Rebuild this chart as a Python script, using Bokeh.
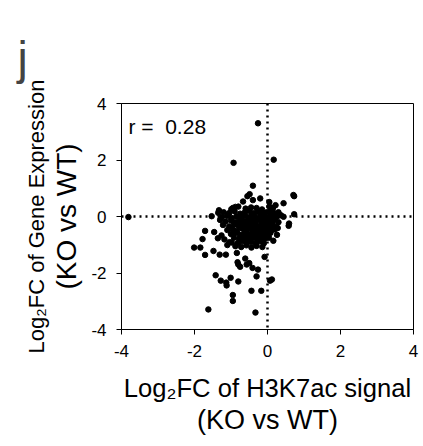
from bokeh.plotting import figure
from bokeh.models import Span, Label, FixedTicker, Range1d, ColumnDataSource, LinearAxis
from bokeh.embed import file_html
from bokeh.resources import INLINE

# ---- data ----
h3k7ac_fc = [
    -3.81, -0.26, -0.93, 0.17, -0.40, 0.71, 0.73, 0.44, 0.05, -0.20, -0.55, -0.49, -0.67, -0.40,
    -0.88, -0.99, -1.33, -1.35, -1.53, 0.73, 0.37, 0.44, 0.59, 0.58, 0.28, 0.26, 0.16, -0.08,
    -2.01, -1.84, -1.78, -1.71, -1.71, -1.46, -1.48, -1.31, -1.14, -1.36, -1.18, -1.26, -1.10, -1.04,
    -0.84, -0.82, -0.75, -0.80, -0.61, -0.50, -0.57, -0.41, -0.26, -0.30, -1.42, -1.28, -1.13, -1.12,
    -1.01, -0.80, 0.07, 0.12, -0.44, -0.17, -0.95, -0.95, -1.62, -0.33,
    -0.95, -0.80, -0.60, -0.45, -0.30, -0.15, 0.05, 0.15, 0.22,
    -1.20, -1.05, -0.90, -0.75, -0.62, -0.50, -0.38, -0.25, -0.12, -0.02, 0.08, 0.18, 0.30,
    -1.25, -1.10, -0.98, -0.85, -0.72, -0.60, -0.48, -0.36, -0.22, -0.10, 0.02, 0.12, 0.25, 0.32,
    -1.30, -1.15, -1.00, -0.88, -0.76, -0.64, -0.52, -0.40, -0.28, -0.16, -0.05, 0.06, 0.18, 0.30,
    -1.22, -1.05, -0.92, -0.80, -0.68, -0.56, -0.44, -0.32, -0.20, -0.08, 0.04, 0.14, 0.24,
    -1.10, -0.95, -0.83, -0.70, -0.58, -0.46, -0.34, -0.22, -0.10, 0.00, 0.10, 0.20,
    -1.00, -0.88, -0.76, -0.64, -0.52, -0.40, -0.28, -0.16, -0.04, 0.08,
    -0.92, -0.78, -0.66, -0.54, -0.42, -0.30, -0.18, -0.06, 0.04,
    -0.98, -0.82, -0.70, -0.56, -0.44, -0.32, -0.20, -0.10,
    -0.88, -0.72, -0.58, -0.44, -0.30, -0.14,
    -0.55, -0.45, -0.35, -0.25, -0.15, -0.05, 0.05, 0.12, -0.65, -0.75, -0.38, -0.18, -0.62, -0.48,
    -0.12, 0.02, -0.30, -0.42, -0.20, 0.10,
]
expr_fc = [
    -0.02, 3.30, 1.90, 2.01, 1.09, 0.76, 0.72, 0.47, 0.51, 0.64, 0.72, 0.79, 0.53, 0.58,
    0.34, 0.26, 0.22, 0.13, 0.01, 0.08, 0.04, -0.01, -0.25, -0.33, -0.41, -0.65, -0.86, -1.43,
    -1.10, -1.10, -0.80, -0.51, -1.36, -0.55, -1.22, -1.35, -1.35, -0.77, -0.81, -0.67, -1.01, -0.91,
    -1.29, -1.62, -1.78, -1.70, -1.49, -1.65, -1.70, -1.82, -1.88, -2.12, -2.08, -2.27, -2.34, -2.44,
    -2.17, -2.30, -2.27, -2.23, -2.63, -2.63, -2.78, -2.99, -3.29, -3.40,
    0.30, 0.35, 0.28, 0.32, 0.30, 0.25, 0.35, 0.30, 0.40,
    0.15, 0.12, 0.18, 0.10, 0.15, 0.20, 0.12, 0.18, 0.10, 0.15, 0.20, 0.12, 0.15,
    -0.02, 0.02, -0.05, 0.00, -0.03, 0.02, -0.02, 0.03, -0.04, 0.02, -0.03, 0.04, -0.02, 0.05,
    -0.12, -0.18, -0.14, -0.20, -0.12, -0.17, -0.10, -0.18, -0.12, -0.20, -0.14, -0.18, -0.12, -0.20,
    -0.30, -0.35, -0.28, -0.33, -0.27, -0.35, -0.30, -0.26, -0.34, -0.28, -0.32, -0.27, -0.36,
    -0.48, -0.45, -0.50, -0.42, -0.48, -0.44, -0.50, -0.43, -0.47, -0.42, -0.50, -0.46,
    -0.62, -0.58, -0.65, -0.60, -0.63, -0.58, -0.66, -0.60, -0.64, -0.58,
    -0.75, -0.80, -0.72, -0.78, -0.74, -0.80, -0.72, -0.78, -0.75,
    -0.92, -0.95, -0.88, -0.93, -0.90, -0.96, -0.88, -0.95,
    -1.05, -1.08, -1.02, -1.10, -1.04, -1.08,
    -0.22, -0.08, -0.38, -0.55, -0.05, -0.52, -0.08, -0.38, -0.45, -0.25, -0.65, -0.85, -0.82, -0.70,
    -0.40, -0.22, -0.10, 0.08, 0.08, 0.10,
]
x_ticks = [-4, -2, 0, 2, 4]
x_tick_labels = ["-4", "-2", "0", "2", "4"]
y_ticks = [-4, -2, 0, 2, 4]
y_tick_labels = ["-4", "-2", "0", "2", "4"]
r_text = "r =\u00a0 0.28"
x_title = "Log\u2082FC of H3K7ac signal"
x_title2 = "(KO vs WT)"
y_title = "Log\u2082FC of Gene Expression"
y_title2 = "(KO vs WT)"
panel_letter = "j"

FONT = "Liberation Sans"

p = figure(width=423, height=446, output_backend="svg", toolbar_location=None,
           x_range=Range1d(-4, 4), y_range=Range1d(-4, 4),
           min_border_left=121, min_border_right=10, min_border_top=103, min_border_bottom=117)
p.background_fill_color = "white"
p.border_fill_color = "white"
p.outline_line_color = "black"
p.outline_line_width = 1
p.outline_line_alpha = 1
p.xgrid.visible = False
p.ygrid.visible = False

p.title.text = panel_letter
p.title.text_font = FONT
p.title.text_font_size = "46px"
p.title.text_font_style = "normal"
p.title.align = "left"
p.title.offset = -104
p.title.standoff = 40

for ax, ticks, labs in ((p.xaxis[0], x_ticks, x_tick_labels), (p.yaxis[0], y_ticks, y_tick_labels)):
    ax.ticker = FixedTicker(ticks=ticks)
    ax.major_label_overrides = {t: l for t, l in zip(ticks, labs)}
    ax.major_label_text_font = FONT
    ax.major_label_text_font_size = "17px"
    ax.major_label_text_color = "black"
    ax.axis_line_color = "black"
    ax.axis_line_width = 1
    ax.major_tick_line_color = "black"
    ax.major_tick_out = 5
    ax.major_tick_in = 0
    ax.minor_tick_line_color = None
    ax.axis_label_text_font = FONT
    ax.axis_label_text_font_style = "normal"
    ax.axis_label_text_color = "black"
p.xaxis[0].major_label_standoff = 10
p.yaxis[0].major_label_standoff = 10

p.xaxis[0].axis_label = x_title
p.xaxis[0].axis_label_text_font_size = "25.6px"
p.xaxis[0].axis_label_standoff = 14

p.yaxis[0].axis_label = y_title2
p.yaxis[0].axis_label_text_font_size = "28px"
p.yaxis[0].axis_label_standoff = 6

def label_axis(text, size, standoff):
    ax = LinearAxis(ticker=FixedTicker(ticks=[]), axis_label=text)
    ax.axis_line_color = None
    ax.major_tick_line_color = None
    ax.minor_tick_line_color = None
    ax.major_label_text_font_size = "0px"
    ax.major_label_standoff = 0
    ax.major_tick_out = 0
    ax.axis_label_text_font = FONT
    ax.axis_label_text_font_style = "normal"
    ax.axis_label_text_color = "black"
    ax.axis_label_text_font_size = size
    ax.axis_label_standoff = standoff
    return ax

p.add_layout(label_axis(x_title2, "27px", 0), "below")
p.add_layout(label_axis(y_title, "22px", 0), "left")

p.add_layout(Span(location=0, dimension="height", line_color="black", line_width=2.5, line_dash="2 4"))
p.add_layout(Span(location=0, dimension="width", line_color="black", line_width=2.5, line_dash="2 4"))

src = ColumnDataSource(dict(x=h3k7ac_fc, y=expr_fc))
p.scatter("x", "y", source=src, size=5.5, color="black")

p.add_layout(Label(x=-3.81, y=3.19, text=r_text, text_font=FONT, text_font_size="21px",
                   text_color="black", text_baseline="alphabetic"))

open("out.html", "w").write(file_html(p, INLINE))
